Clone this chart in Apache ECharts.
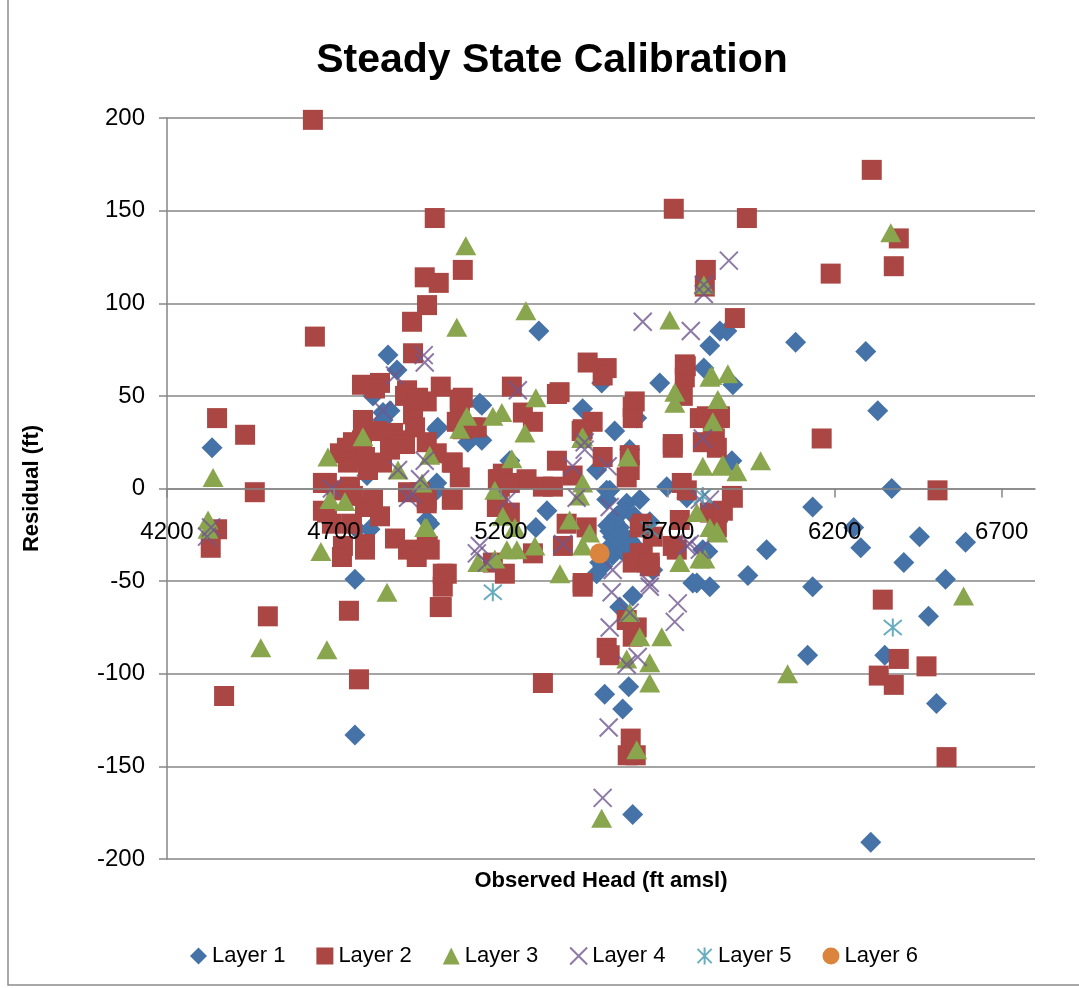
<!DOCTYPE html>
<html>
<head>
<meta charset="utf-8">
<style>
  html, body { margin:0; padding:0; background:#fff; }
  #psChart { width:1079px; height:988px; }
</style>
</head>
<body>
<div id="psChart"></div>
<script src="https://cdn.jsdelivr.net/npm/echarts@6/dist/echarts.min.js"></script>
<script type="text/javascript">
// observed head (ft amsl), residual (ft)
var layer1 = [
  [4335,22],[4763,-49],[4763,-133],[4862,72],[4889,64],[4817,50],[4868,42],[4847,37],[4847,41],
  [5143,45],[5137,46],[5008,32],[5116,28],[5101,25],[5143,26],[4799,7],[5008,3],[5008,-1],
  [4978,-17],[4987,-19],[4769,-22],[4808,-22],[5314,85],[5502,57],[5676,57],[5826,77],[5808,65],
  [5856,85],[5877,85],[6083,79],[6293,74],[5895,56],[6329,42],[6371,0],[6134,-10],[6257,-21],
  [6278,-32],[6454,-26],[6592,-29],[6407,-40],[5996,-33],[5940,-47],[5826,-53],[6134,-53],
  [6532,-49],[6481,-69],[6119,-90],[6350,-90],[5892,15],[5820,-34],[6505,-116],[6308,-191],
  [5583,-107],[5511,-111],[5565,-119],[5595,-176],[5445,43],[5541,31],[5607,38],[5011,33],
  [5227,15],[5697,1],[5586,21],[5616,-6],[5517,-1],[5338,-12],[5305,-21],[5517,-6],[5547,-15],
  [5556,-21],[5535,-26],[5517,-33],[5556,-31],[5595,-30],[5505,-42],[5787,-51],[5805,-33],
  [5577,-8],[5646,-18],[5655,-44],[5595,-58],[5487,10],[5487,-46],[5556,-64],[5775,-51],
  [5757,-5],[5526,-1],[5526,-23],[5496,-40],[5535,-36],[5565,-12],[5586,-28],[5541,-18],
  [5565,-25],[5571,-35],[5520,-20],[5600,-15],[5610,-40]
];
var layer2 = [
  [4637,199],[4643,82],[4350,38],[4434,29],[4463,-2],[4502,-69],[4371,-112],[4350,-22],[4331,-32],
  [4775,-103],[4745,-66],[5002,146],[4972,114],[5014,111],[4979,99],[4934,90],[4937,73],[5020,55],
  [4784,56],[4838,57],[4823,54],[4913,50],[4952,49],[5086,118],[5718,151],[5814,118],[5811,109],
  [5460,68],[5517,65],[5505,61],[5754,66],[5751,60],[5086,49],[5077,48],[5233,55],[5368,51],
  [5601,47],[5745,50],[6311,172],[5937,146],[6392,135],[6188,116],[6377,120],[5901,92],[6161,27],
  [6508,-1],[6344,-60],[6392,-92],[6332,-101],[6475,-96],[6377,-106],[6535,-145],[5895,-5],
  [5850,-13],[5856,39],[5841,27],[4978,47],[5128,33],[5086,32],[5266,41],[5296,36],[5475,36],
  [5445,32],[5595,44],[5595,38],[5715,22],[5796,38],[5835,32],[5805,25],[5505,17],[5368,15],
  [5415,7],[5577,6],[5197,5],[5277,5],[5326,1],[5356,1],[5056,14],[5077,6],[5056,-6],[4978,-6],
  [4981,-31],[5038,-46],[5026,-53],[5023,-64],[5197,1],[5191,-8],[5227,-13],[5212,-46],[5176,-40],
  [5296,-35],[5397,-19],[5386,-31],[5457,-21],[5445,-53],[5586,10],[5616,-21],[5625,-35],
  [5646,-42],[5595,-40],[5715,-31],[5736,-17],[5757,-1],[5826,-13],[5847,-21],[5577,-71],
  [5607,-75],[5517,-86],[5526,-90],[5595,-80],[5326,-105],[5589,-135],[5580,-144],[5604,-144],
  [4787,37],[4937,40],[4943,33],[5077,44],[5068,36],[5113,33],[4718,19],[4748,21],[4742,14],
  [4784,26],[4829,31],[4877,30],[4898,26],[4793,17],[4802,10],[4844,14],[4868,21],[4913,24],
  [4978,25],[5008,19],[5053,14],[5053,-6],[4667,3],[4709,-1],[4748,1],[4667,-12],[4694,-19],
  [4757,-4],[4793,-10],[4817,-6],[4838,-15],[4754,-19],[4793,-30],[4727,-31],[4883,-27],
  [4922,-33],[4978,-31],[4978,-8],[4922,-2],[4958,-2],[5191,5],[5206,8],[5188,-10],[5227,3],
  [4739,22],[4787,35],[4757,25],[4679,3],[4679,-13],[4724,-37],[4793,-33],[4948,-37],[4987,-33],
  [5026,-46],[5017,-64],[4919,53],[4948,48],[5751,67],[5442,31],[5715,24],[5817,39],[5856,38],
  [5847,22],[5586,18],[5742,3],[5892,-4],[5865,-12],[5622,-19],[5655,-26],[5616,-35],[5646,-40],
  [5727,-33],[5376,52],[5445,-51]
];
var layer3 = [
  [4338,6],[4323,-17],[4323,-22],[4481,-86],[4679,-87],[4661,-34],[4859,-56],[4682,17],[4787,28],
  [4688,-6],[4733,-7],[4972,-21],[4987,18],[4892,10],[4964,3],[5068,87],[5095,131],[5275,96],
  [5706,91],[5808,110],[5832,61],[5721,52],[5305,49],[6368,138],[5880,62],[5826,60],[5978,15],
  [5835,36],[5850,48],[5907,9],[5861,12],[5826,-21],[5850,-24],[5811,-38],[6586,-58],[6059,-100],
  [5098,39],[5176,39],[5203,41],[5077,32],[5272,30],[5445,28],[5580,17],[5233,16],[5182,-1],
  [5445,3],[5436,-4],[5406,-17],[5466,-24],[5445,-31],[5206,-15],[5242,-21],[5302,-31],[5218,-33],
  [5248,-33],[5131,-40],[5182,-38],[5377,-46],[4978,-21],[5736,-40],[5796,-38],[5586,-67],
  [5616,-80],[5682,-80],[5577,-92],[5646,-94],[5646,-105],[5607,-141],[5502,-178],[5721,46],
  [5805,12],[5865,13],[5442,27],[5787,-13],[5847,-23]
];
var layer4 = [
  [4332,-21],[4320,-26],[4694,0],[4847,42],[4892,10],[4972,15],[4958,5],[4934,-3],[4969,72],
  [4972,68],[4883,61],[4922,-5],[5137,-31],[5221,-6],[5625,90],[5769,85],[5808,110],[5808,105],
  [5883,123],[5251,53],[5451,25],[5451,21],[5415,12],[5520,12],[5427,-5],[5526,-10],[5386,-30],
  [5128,-35],[5158,-40],[5535,-44],[5532,-56],[5526,-75],[5586,-67],[5646,-53],[5730,-62],
  [5721,-72],[5766,-30],[5796,-33],[5805,27],[5796,-6],[5577,-95],[5523,-129],[5505,-167],
  [5610,-91],[5757,-31],[5826,-6],[5646,-51]
];
var layer5 = [[5176,-56],[5805,-4],[5646,-22],[6374,-75]];
var layer6 = [[5496,-35]];

var xTicks = [4200, 4700, 5200, 5700, 6200, 6700];
var seriesNames = ['Layer 1', 'Layer 2', 'Layer 3', 'Layer 4', 'Layer 5', 'Layer 6'];

var font = 'Liberation Sans';
var axisGray = '#868686';

var myChart = echarts.init(document.getElementById('psChart'));
var option = {
    backgroundColor: '#fff',
    animation: false,
    title: {
        text: 'Steady State Calibration',
        left: 547,
        top: 35,
        textAlign: 'center',
        textStyle: { fontFamily: font, fontSize: 41, fontWeight: 'bold', color: '#000' }
    },
    legend: {
        data: seriesNames,
        left: 185,
        top: 940,
        itemWidth: 17,
        itemHeight: 17,
        itemGap: 31,
        textStyle: { fontFamily: font, fontSize: 22, color: '#000' }
    },
    grid: { left: 167, right: 44, top: 118, bottom: 129, containLabel: false, outerBoundsMode: 'none' },
    xAxis: {
        type: 'value',
        z: 10,
        min: 4200,
        max: 6800,
        interval: 500,
        name: 'Observed Head (ft amsl)',
        nameLocation: 'middle',
        nameGap: 11,
        nameMoveOverlap: false,
        nameTextStyle: { fontFamily: font, fontSize: 22, fontWeight: 'bold', color: '#000', verticalAlign: 'top' },
        axisLine: { onZero: true, lineStyle: { color: axisGray, width: 1.5 } },
        axisTick: { show: true, length: 9, customValues: xTicks, lineStyle: { color: axisGray, width: 1.5 } },
        axisLabel: {
            customValues: xTicks,
            margin: -339,
            fontFamily: font,
            fontSize: 24,
            color: '#000',
            formatter: function (v) { return v === 6800 ? '' : String(v); }
        },
        splitLine: { show: false }
    },
    yAxis: {
        type: 'value',
        min: -200,
        max: 200,
        interval: 50,
        name: 'Residual (ft)',
        nameLocation: 'middle',
        nameGap: 124,
        nameTextStyle: { fontFamily: font, fontSize: 22, fontWeight: 'bold', color: '#000' },
        axisLine: { show: true, lineStyle: { color: axisGray, width: 1.5 } },
        axisTick: { show: true, length: 8, lineStyle: { color: axisGray, width: 1.5 } },
        axisLabel: { margin: 22, fontFamily: font, fontSize: 24, color: '#000' },
        splitLine: { show: true, lineStyle: { color: axisGray, width: 1.5 } }
    },
    graphic: [{
        type: 'rect',
        shape: { x: 8, y: -10, width: 1100, height: 995 },
        style: { fill: 'none', stroke: '#8c8c8c', lineWidth: 1.5 },
        silent: true
    }],
    series: [
        {
            name: 'Layer 1', type: 'scatter', data: layer1,
            symbol: 'diamond', symbolSize: 21,
            itemStyle: { color: '#4572A7', opacity: 1 }
        },
        {
            name: 'Layer 2', type: 'scatter', data: layer2,
            symbol: 'rect', symbolSize: 20,
            itemStyle: { color: '#AA4643', opacity: 1 }
        },
        {
            name: 'Layer 3', type: 'scatter', data: layer3,
            symbol: 'triangle', symbolSize: [21, 19],
            itemStyle: { color: '#89A54E', opacity: 1 }
        },
        {
            name: 'Layer 4', type: 'scatter', data: layer4,
            symbol: 'path://M0,0L10,10M10,0L0,10', symbolSize: 18,
            itemStyle: { color: 'rgba(0,0,0,0)', borderColor: '#71588F', borderWidth: 2 }
        },
        {
            name: 'Layer 5', type: 'scatter', data: layer5,
            symbol: 'path://M0,0L10,10M10,0L0,10M5,-1L5,11', symbolSize: 18,
            itemStyle: { color: 'rgba(0,0,0,0)', borderColor: '#4198AF', borderWidth: 2 }
        },
        {
            name: 'Layer 6', type: 'scatter', data: layer6,
            symbol: 'circle', symbolSize: 20,
            itemStyle: { color: '#DB843D', opacity: 1 }
        }
    ]
};
myChart.setOption(option);
</script>
</body>
</html>
